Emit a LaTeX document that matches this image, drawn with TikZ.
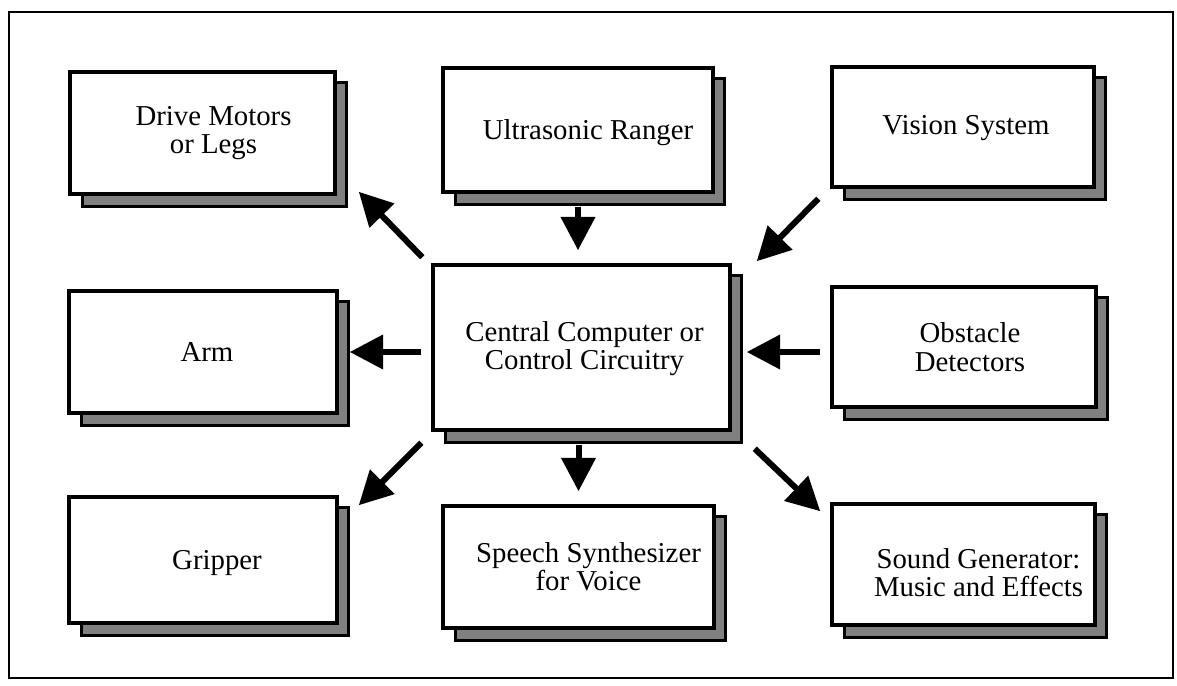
\documentclass[tikz,border=0pt]{standalone}
\usepackage{fontspec}
\setmainfont{Liberation Serif}
\usetikzlibrary{arrows.meta,calc}

% name, x1, y1, x2, y2, text, text x-offset, text y-offset
\newcommand\robobox[8]{%
  \fill[black] (#2+11,#3+9) rectangle (#4+13,#5+14);
  \fill[stipple] (#2+14,#3+12) rectangle (#4+10,#5+11);
  \node[box, minimum width={(#4-#2)*0.75pt}, minimum height={(#5-#3)*0.75pt}]
     (#1) at ({(#2+#4)/2},{(#3+#5)/2}) {};
  \node[lbl] (#1-t) at ([xshift={#7*0.75pt}, yshift={-#8*0.75pt}]#1.center) {#6};
}

\begin{document}
\begin{tikzpicture}[x=0.75pt,y=-0.75pt,
  box/.style={draw=black, line width=2.6pt, fill=white, inner sep=0pt},
  stipple/.style={fill=black!50},
  lbl/.style={align=center, font=\fontsize{21.6}{21.3}\selectfont, inner sep=0pt},
  arr/.style={line width=4.5pt, -{Triangle[length=25pt,width=25pt]}},
  ]
\fill[white] (0,0) rectangle (1177,685);
\useasboundingbox (0,0) rectangle (1177,685);
\draw[line width=2pt] (9,12) rectangle (1173,678);

\robobox{drive}{70}{72}{335}{194}{Drive Motors\\or Legs}{11}{0}
\robobox{ultra}{443}{68}{713}{192}{Ultrasonic Ranger}{10}{3}
\robobox{vision}{832}{67}{1094}{187}{Vision System}{3}{1}
\robobox{central}{433}{265}{730}{430}{Central Computer or\\Control Circuitry}{3}{1}
\robobox{arm}{69}{291}{337}{413}{Arm}{4}{0}
\robobox{obst}{832}{287}{1096}{407}{Obstacle\\Detectors}{6}{0}
\robobox{grip}{69}{497}{337}{623}{Gripper}{14}{3}
\robobox{speech}{443}{506}{714}{628}{Speech Synthesizer\\for Voice}{10}{0}
\robobox{sound}{832}{504}{1095}{625}{Sound Generator:\\Music and Effects}{15}{8}

% connectors
\draw[arr] ([shift={(-9,-6)}]central.north west) -- ([shift={(22,-4)}]drive.south east);
\draw[arr] ([shift={(0,13)}]ultra.south) -- ($(ultra.south |- central.north)+(0,-13)$);
\draw[arr] ([shift={(-12,10)}]vision.south west) -- ([shift={(25,-2)}]central.north east);
\draw[arr] ($(central.west |- arm.east)+(-10,0)$) -- ([shift={(11,0)}]arm.east);
\draw[arr] ([shift={(-10,5)}]obst.west) -- ($(central.east |- obst.west)+(15,5)$);
\draw[arr] ([shift={(-10,11)}]central.south west) -- ([shift={(20,10)}]grip.north east);
\draw[arr] ($(speech.north |- central.south)+(0,13)$) -- ([shift={(0,-13)}]speech.north);
\draw[arr] ([shift={(23,17)}]central.south east) -- ([shift={(-10,9)}]sound.north west);
\end{tikzpicture}
\end{document}
